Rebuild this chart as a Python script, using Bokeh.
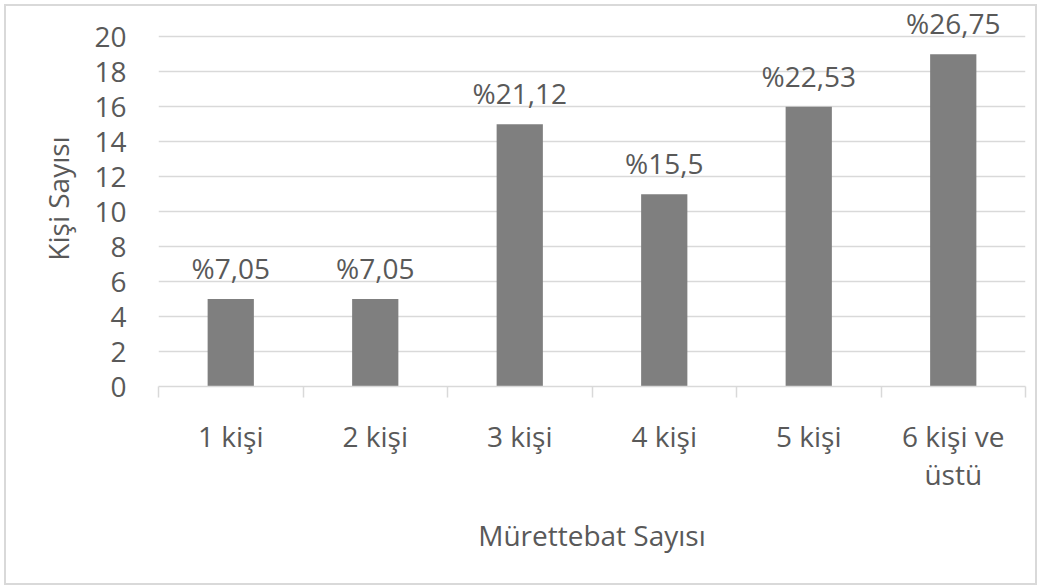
from bokeh.plotting import figure
from bokeh.models import FixedTicker, Range1d, ColumnDataSource, InlineStyleSheet
from bokeh.core.properties import value
from bokeh.embed import file_html
from bokeh.resources import INLINE

# Crew size categories, number of people and their share
categories = ["1 kişi", "2 kişi", "3 kişi", "4 kişi", "5 kişi", "6 kişi ve\nüstü"]
counts = [5, 5, 15, 11, 16, 19]
pct_labels = ["%7,05", "%7,05", "%21,12", "%15,5", "%22,53", "%26,75"]
y_ticks = [0, 2, 4, 6, 8, 10, 12, 14, 16, 18, 20]

FONT = "Open Sans"
FSIZE = "28px"
TEXT = "#595959"
GRID = "#d9d9d9"

centers = [i + 0.5 for i in range(len(categories))]
src = ColumnDataSource(dict(x=centers, top=counts, label=pct_labels))

# thin light frame drawn around the whole chart area
frame_css = InlineStyleSheet(css="""
:host { position: relative; }
:host::after {
  content: ""; position: absolute; left: 4px; top: 4px; right: 5px; bottom: 3px;
  border: 2px solid #d9d9d9; z-index: 1000; pointer-events: none;
}
""")

p = figure(width=1042, height=588, output_backend="svg", toolbar_location=None,
           x_range=Range1d(0, len(categories)), y_range=Range1d(0, 21.5),
           min_border_left=158, min_border_right=17, min_border_top=10,
           min_border_bottom=202, stylesheets=[frame_css])
p.outline_line_color = None
p.background_fill_color = "white"
p.border_fill_color = "white"

p.vbar(x="x", top="top", width=0.32, bottom=0, source=src,
       fill_color="#7f7f7f", line_color=None)

p.text(x="x", y="top", text="label", source=src, y_offset=-12,
       text_align="center", text_baseline="bottom",
       text_font=value(FONT), text_font_size=FSIZE, text_color=TEXT)

# y axis: labels only, horizontal gridlines
p.yaxis.ticker = FixedTicker(ticks=y_ticks)
p.yaxis.axis_line_color = None
p.yaxis.major_tick_line_color = None
p.yaxis.minor_tick_line_color = None
p.yaxis.major_label_standoff = 26
p.yaxis.major_label_text_font = FONT
p.yaxis.major_label_text_font_size = FSIZE
p.yaxis.major_label_text_color = TEXT
p.yaxis.axis_label = "Kişi Sayısı"
p.yaxis.axis_label_text_font = FONT
p.yaxis.axis_label_text_font_size = FSIZE
p.yaxis.axis_label_text_font_style = "normal"
p.yaxis.axis_label_text_color = TEXT
p.yaxis.axis_label_standoff = 14

p.ygrid.ticker = FixedTicker(ticks=y_ticks)
p.ygrid.grid_line_color = GRID
p.ygrid.grid_line_width = 1.5
p.xgrid.grid_line_color = None

# x axis: category names at centers, tick marks at boundaries
p.xaxis.ticker = FixedTicker(ticks=centers, minor_ticks=list(range(len(categories) + 1)))
p.xaxis.major_label_overrides = {c: name for c, name in zip(centers, categories)}
p.xaxis.major_tick_line_color = None
p.xaxis.minor_tick_line_color = GRID
p.xaxis.minor_tick_line_width = 1.5
p.xaxis.minor_tick_out = 11
p.xaxis.minor_tick_in = 0
p.xaxis.axis_line_color = GRID
p.xaxis.axis_line_width = 1.5
p.xaxis.major_label_standoff = 19
p.xaxis.major_label_text_font = FONT
p.xaxis.major_label_text_font_size = FSIZE
p.xaxis.major_label_text_color = TEXT
p.xaxis.major_label_text_line_height = 1.0
p.xaxis.axis_label = "Mürettebat Sayısı"
p.xaxis.axis_label_text_font = FONT
p.xaxis.axis_label_text_font_size = FSIZE
p.xaxis.axis_label_text_font_style = "normal"
p.xaxis.axis_label_text_color = TEXT
p.xaxis.axis_label_standoff = 20

open("out.html", "w").write(file_html(p, INLINE))
